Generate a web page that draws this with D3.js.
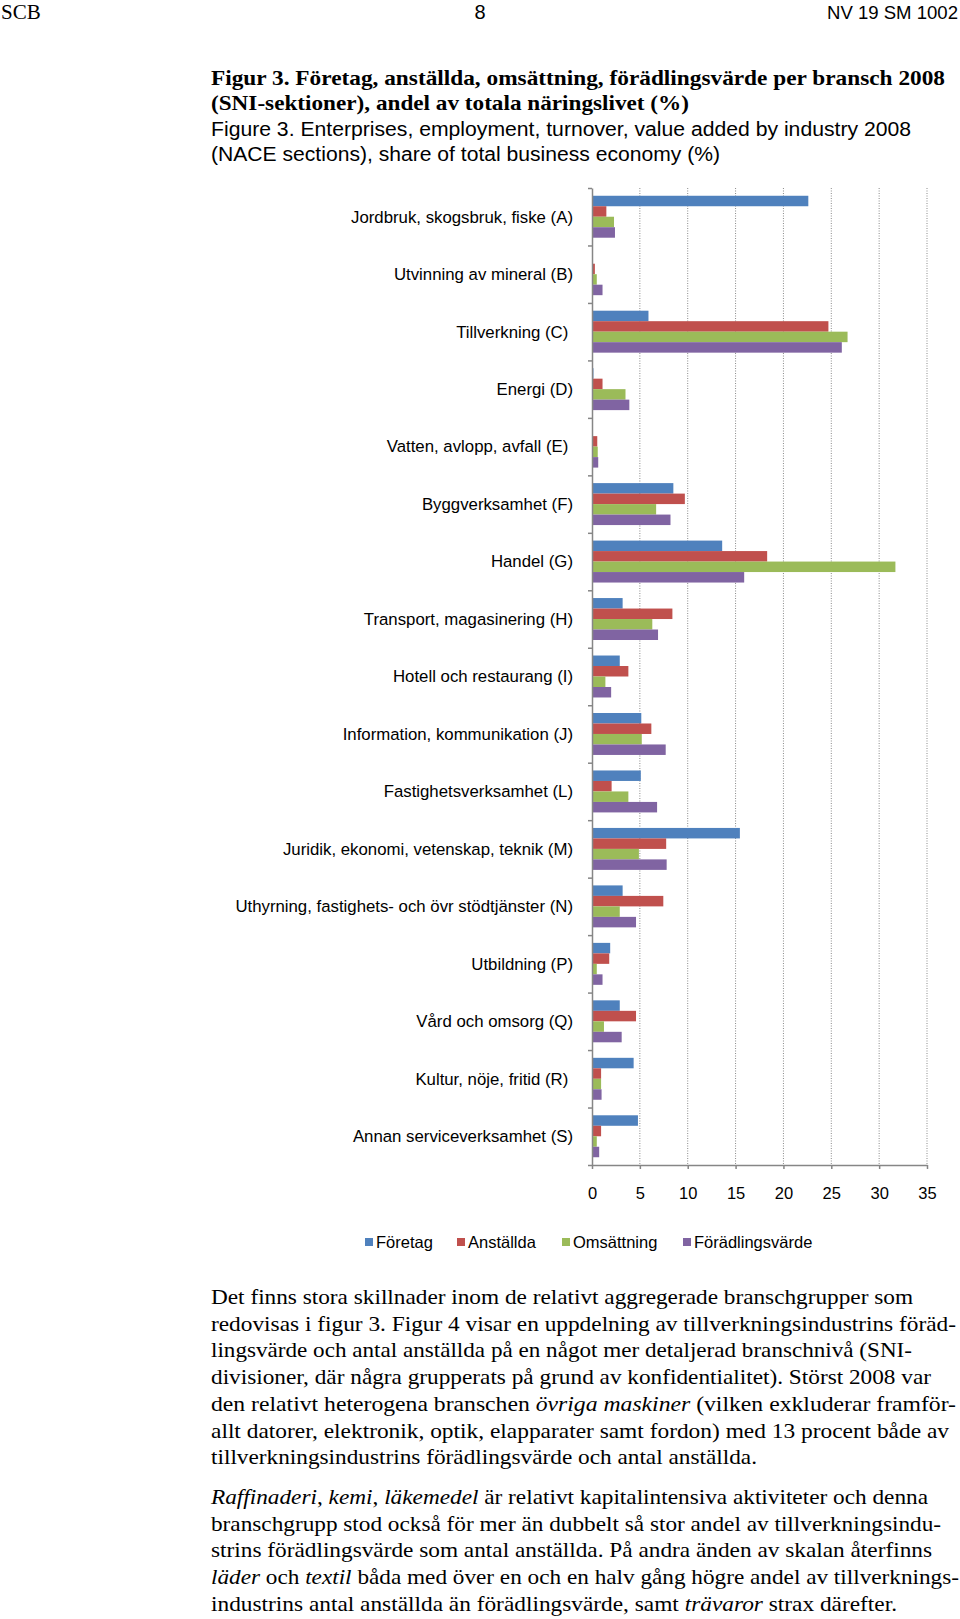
<!DOCTYPE html>
<html>
  <head>
    <meta charset="utf-8">
    <title>Figur 3</title>
    <script src="https://d3js.org/d3.v7.min.js" type="text/javascript"></script>
    <style>
      body { margin: 0; background: #fff; }
      svg { display: block; }
    </style>
  </head>
  <body>
    <script>
      // categories (SNI-sektioner), top to bottom
      var categories = [
        "Jordbruk, skogsbruk, fiske (A)",
        "Utvinning av mineral (B)",
        "Tillverkning (C)\u00a0",
        "Energi (D)",
        "Vatten, avlopp, avfall (E)\u00a0",
        "Byggverksamhet (F)",
        "Handel (G)",
        "Transport, magasinering (H)",
        "Hotell och restaurang (I)",
        "Information, kommunikation (J)",
        "Fastighetsverksamhet (L)",
        "Juridik, ekonomi, vetenskap, teknik (M)",
        "Uthyrning, fastighets- och övr stödtjänster (N)",
        "Utbildning (P)",
        "Vård och omsorg (Q)",
        "Kultur, nöje, fritid (R)\u00a0",
        "Annan serviceverksamhet (S)"
      ];

      var series = ["Företag", "Anställda", "Omsättning", "Förädlingsvärde"];
      var colors = ["#4f81bd", "#c0504d", "#9bbb59", "#8064a2"];

      // share of total business economy (%)
      var foretag    = [22.6, 0.05, 5.9, 0.15, 0.1, 8.5, 13.6, 3.2, 2.9, 5.15, 5.1, 15.45, 3.2, 1.9, 2.9, 4.35, 4.8];
      var anstallda  = [1.5, 0.3, 24.7, 1.1, 0.55, 9.7, 18.3, 8.4, 3.8, 6.2, 2.05, 7.75, 7.45, 1.8, 4.6, 0.95, 0.95];
      var omsattning = [2.3, 0.5, 26.7, 3.5, 0.6, 6.7, 31.7, 6.3, 1.4, 5.2, 3.8, 4.9, 2.9, 0.5, 1.25, 0.95, 0.5];
      var foradling  = [2.4, 1.1, 26.1, 3.9, 0.65, 8.2, 15.9, 6.9, 2.0, 7.7, 6.8, 7.8, 4.6, 1.1, 3.1, 1.0, 0.75];

      var xTicks = [0, 5, 10, 15, 20, 25, 30, 35];

      var headerLeft = "SCB";
      var pageNumber = "8";
      var headerRight = "NV 19 SM 1002";

      var titleSv = [
        "Figur 3. Företag, anställda, omsättning, förädlingsvärde per bransch 2008",
        "(SNI-sektioner), andel av totala näringslivet (%)"
      ];
      var titleEn = [
        "Figure 3. Enterprises, employment, turnover, value added by industry 2008",
        "(NACE sections), share of total business economy (%)"
      ];

      // body text, one entry per printed line; [text, italic]
      var paragraph1 = [
        [["Det finns stora skillnader inom de relativt aggregerade branschgrupper som", false]],
        [["redovisas i figur 3. Figur 4 visar en uppdelning av tillverkningsindustrins föräd-", false]],
        [["lingsvärde och antal anställda på en något mer detaljerad branschnivå (SNI-", false]],
        [["divisioner, där några grupperats på grund av konfidentialitet). Störst 2008 var", false]],
        [["den relativt heterogena branschen ", false], ["övriga maskiner", true], [" (vilken exkluderar framför-", false]],
        [["allt datorer, elektronik, optik, elapparater samt fordon) med 13 procent både av", false]],
        [["tillverkningsindustrins förädlingsvärde och antal anställda.", false]]
      ];
      var paragraph2 = [
        [["Raffinaderi", true], [", ", false], ["kemi", true], [", ", false], ["läkemedel", true], [" är relativt kapitalintensiva aktiviteter och denna", false]],
        [["branschgrupp stod också för mer än dubbelt så stor andel av tillverkningsindu-", false]],
        [["strins förädlingsvärde som antal anställda. På andra änden av skalan återfinns", false]],
        [["läder", true], [" och ", false], ["textil", true], [" båda med över en och en halv gång högre andel av tillverknings-", false]],
        [["industrins antal anställda än förädlingsvärde, samt ", false], ["trävaror", true], [" strax därefter.", false]]
      ];
      // right ends of the printed lines (px)
      var paragraph1Ends = [913, 956, 912, 931, 956, 949, 757];
      var paragraph2Ends = [928, 941, 932, 959, 897];

      var W = 960, H = 1619;
      var serif = "'Liberation Serif', 'Times New Roman', serif";
      var sans = "'Liberation Sans', Arial, sans-serif";

      var svg = d3.select("body").append("svg")
                  .attr("width", W)
                  .attr("height", H);

      // squeeze/stretch a text element to the printed width
      function fitWidth(sel, target) {
        sel.attr("textLength", target).attr("lengthAdjust", "spacingAndGlyphs");
      }

      // page header
      svg.append("text").attr("x", 1).attr("y", 19)
         .style("font-family", serif).style("font-size", "21px")
         .text(headerLeft);
      svg.append("text").attr("x", 480).attr("y", 19)
         .attr("text-anchor", "middle")
         .style("font-family", sans).style("font-size", "20px")
         .text(pageNumber);
      var hr = svg.append("text").attr("x", 827).attr("y", 19)
         .style("font-family", sans).style("font-size", "18px")
         .text(headerRight);
      fitWidth(hr, 131);

      // titles
      var titleEnds = [945, 689];
      titleSv.forEach(function(t, i) {
        var el = svg.append("text").attr("x", 211).attr("y", 85 + i * 25)
           .style("font-family", serif).style("font-size", "21px").style("font-weight", "bold")
           .text(t);
        fitWidth(el, titleEnds[i] - 211);
      });
      var subEnds = [911, 720];
      titleEn.forEach(function(t, i) {
        var el = svg.append("text").attr("x", 211).attr("y", 136 + i * 24.5)
           .style("font-family", sans).style("font-size", "19.5px")
           .text(t);
        fitWidth(el, subEnds[i] - 211);
      });

      // chart area
      var plot = { left: 592, right: 927, top: 188, bottom: 1165 };

      var x = d3.scaleLinear().domain([0, 35]).range([plot.left, plot.right]);
      var y = d3.scaleBand().domain(categories).range([plot.top, plot.bottom]).padding(0);
      var yEdge = d3.scaleLinear().domain([0, categories.length]).range([plot.top, plot.bottom]);
      var ySub = d3.scaleBand().domain(series).range([0, y.bandwidth()])
                   .paddingInner(0).paddingOuter(0.74);

      // dotted gridlines
      svg.append("g").selectAll("line")
         .data(xTicks.slice(1))
         .enter().append("line")
         .attr("x1", function(d) { return x(d); })
         .attr("x2", function(d) { return x(d); })
         .attr("y1", plot.top)
         .attr("y2", plot.bottom)
         .style("stroke", "#8a8a8a")
         .style("stroke-width", 1)
         .style("stroke-dasharray", "1,1.5");

      // bars
      var values = [foretag, anstallda, omsattning, foradling];
      var barData = [];
      categories.forEach(function(c, i) {
        series.forEach(function(s, j) {
          barData.push({ cat: c, ser: s, value: values[j][i], color: colors[j] });
        });
      });

      svg.append("g").selectAll("rect")
         .data(barData)
         .enter().append("rect")
         .attr("x", x(0))
         .attr("y", function(d) { return y(d.cat) + ySub(d.ser); })
         .attr("width", function(d) { return x(d.value) - x(0); })
         .attr("height", ySub.bandwidth())
         .style("fill", function(d) { return d.color; });

      // x axis
      var xAxis = svg.append("g")
         .attr("transform", "translate(0," + plot.bottom + ")")
         .call(d3.axisBottom(x).tickValues(xTicks).tickSize(4).tickPadding(18).tickSizeOuter(0));
      xAxis.select(".domain").style("stroke", "#868686").style("stroke-width", 1.5);
      xAxis.selectAll(".tick line").style("stroke", "#868686").style("stroke-width", 1.5);
      xAxis.selectAll(".tick text")
           .style("font-family", sans).style("font-size", "16.5px").style("fill", "#000");

      // y axis with ticks at band edges
      var yAxis = svg.append("g")
         .attr("transform", "translate(" + plot.left + ",0)")
         .call(d3.axisLeft(yEdge).tickValues(d3.range(categories.length + 1))
                 .tickSize(4).tickFormat("").tickSizeOuter(0));
      yAxis.select(".domain").style("stroke", "#868686").style("stroke-width", 1.5);
      yAxis.selectAll(".tick line").style("stroke", "#868686").style("stroke-width", 1.5);

      // category labels
      svg.append("g").selectAll("text")
         .data(categories)
         .enter().append("text")
         .attr("x", 573)
         .attr("y", function(d) { return y(d) + y.bandwidth() / 2; })
         .attr("dy", "0.35em")
         .attr("text-anchor", "end")
         .style("font-family", sans).style("font-size", "16.8px")
         .style("white-space", "pre")
         .text(function(d) { return d; });

      // legend
      var legendX = [365, 457, 562, 683];
      var legend = svg.append("g").selectAll("g")
         .data(series)
         .enter().append("g")
         .attr("transform", function(d, i) { return "translate(" + legendX[i] + ",1242)"; });
      legend.append("rect")
         .attr("x", 0).attr("y", -4)
         .attr("width", 8).attr("height", 8)
         .style("fill", function(d, i) { return colors[i]; });
      legend.append("text")
         .attr("x", 11).attr("y", 0).attr("dy", "0.35em")
         .style("font-family", sans).style("font-size", "16.5px")
         .text(function(d) { return d; });

      // body text
      function drawParagraph(lines, ends, y0) {
        lines.forEach(function(segs, i) {
          var el = svg.append("text")
             .attr("x", 211).attr("y", y0 + i * 26.7)
             .style("font-family", serif).style("font-size", "22px")
             .style("white-space", "pre");
          segs.forEach(function(s) {
            el.append("tspan")
              .style("font-style", s[1] ? "italic" : "normal")
              .text(s[0]);
          });
          fitWidth(el, ends[i] - 211);
        });
      }
      drawParagraph(paragraph1, paragraph1Ends, 1304);
      drawParagraph(paragraph2, paragraph2Ends, 1504);
    </script>
  </body>
</html>
